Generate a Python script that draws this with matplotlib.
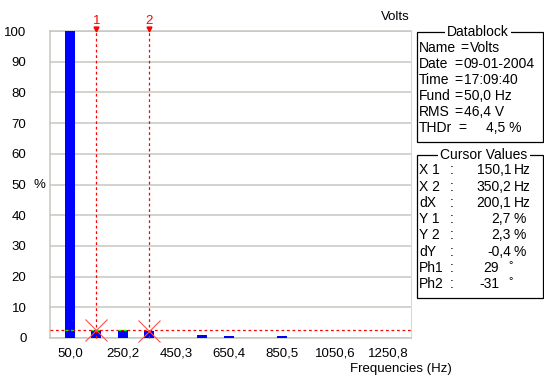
import matplotlib
matplotlib.use('Agg')
import matplotlib.pyplot as plt
from matplotlib.patches import Rectangle

# harmonic spectrum (Hz, % of fundamental)
freqs = [50, 150, 250, 350, 450, 550, 650, 750, 850]
amps = [100, 2.7, 2.6, 2.3, 0.0, 1.0, 0.6, 0.0, 0.5]

tick_pos = [50, 250, 450, 650, 850, 1050, 1250]
tick_labels = ['50,0', '250,2', '450,3', '650,4', '850,5', '1050,6', '1250,8']
y_ticks = [0, 10, 20, 30, 40, 50, 60, 70, 80, 90, 100]

cursor_x = [150, 350]
cursor_y = [2.7, 2.3]
cursor_names = ['1', '2']
hline_level = 2.5

datablock = [('Name', 'Volts'), ('Date', '09-01-2004'), ('Time', '17:09:40'),
             ('Fund', '50,0 Hz'), ('RMS', '46,4 V'), ('THDr', '4,5 %')]
cursor_rows = [('X 1', '150,1', 'Hz'), ('X 2', '350,2', 'Hz'), ('dX', '200,1', 'Hz'),
               ('Y 1', '2,7', '%'), ('Y 2', '2,3', '%'), ('dY', '-0,4', '%'),
               ('Ph1', '29', '°'), ('Ph2', '-31', '°')]

plt.rcParams['font.family'] = ['Liberation Sans', 'DejaVu Sans']
fs = 9.5
fs_box = 10
grid_col = '#c8c8c0'

fig = plt.figure(figsize=(5.44, 3.78), dpi=100)
ax = fig.add_axes([50 / 544, 1 - 338 / 378, 361 / 544, 307 / 378])

bar_w = 38
ax.bar(freqs, amps, width=bar_w, color='#0000ff', zorder=3)

ax.set_xlim(-25, 1337)
ax.set_ylim(0, 100)
ax.set_xticks(tick_pos)
ax.set_xticklabels(tick_labels)
ax.set_yticks(y_ticks)
ax.set_yticklabels([str(v) for v in y_ticks])
ax.tick_params(length=0, labelsize=fs, colors='#000000')
ax.tick_params(axis='y', pad=17)
ax.tick_params(axis='x', pad=7)
ax.yaxis.grid(True, color=grid_col, lw=1.1, zorder=0)
for s in ['left', 'bottom', 'top']:
    ax.spines[s].set_color(grid_col)
    ax.spines[s].set_linewidth(1.1)
ax.spines['right'].set_color('#d8d8e8')
ax.spines['right'].set_linestyle((0, (1, 1)))

dash = (0, (2.2, 2.2))
# horizontal cursor line, shown green where it crosses bars
ax.axhline(hline_level, color='#ff0000', lw=0.9, ls=dash, zorder=4)
for f, a in zip(freqs, amps):
    if a >= hline_level:
        ax.plot([f - bar_w / 2, f + bar_w / 2], [hline_level, hline_level],
                color='#00ff00', lw=0.9, ls=dash, zorder=5)

# vertical cursors
for cx, cy, name in zip(cursor_x, cursor_y, cursor_names):
    ax.plot([cx, cx], [0, 101.8], color='#ff0000', lw=0.9, ls=dash,
            zorder=4, clip_on=False)
    ax.plot([cx], [100.7], marker='v', color='#ff0000', ms=3.5, clip_on=False, zorder=6)
    ax.text(cx, 103.3, name, color='#ff0000', fontsize=fs, ha='center', va='center')
    ax.plot([cx], [cy], marker='x', color='#ff5050', ms=16, mew=0.8, zorder=6, clip_on=False)

# overlay in pixel coordinates for the side panels and loose labels
ov = fig.add_axes([0, 0, 1, 1])
ov.set_xlim(0, 544)
ov.set_ylim(378, 0)
ov.axis('off')
ov.patch.set_alpha(0)

ov.text(39, 185, '%', fontsize=fs, ha='center', va='center')
ov.text(395, 17, 'Volts', fontsize=fs, ha='center', va='center')
ov.text(401, 369, 'Frequencies (Hz)', fontsize=fs, ha='center', va='center')


def group_box(top, bottom, title, tx):
    ov.add_patch(Rectangle((416.5, top), 126.5, bottom - top, fill=False,
                           ec='#000000', lw=0.9))
    ov.text(tx, top, title, fontsize=fs_box, ha='center', va='center',
            bbox=dict(fc='white', ec='none', pad=1.5))


group_box(32, 142, 'Datablock', 478)
for i, (lab, val) in enumerate(datablock):
    y = 48 + 16 * i
    ov.text(419, y, lab, fontsize=fs_box, va='center')
    if lab == 'Name':
        ov.text(460, y, '=', fontsize=fs_box, va='center')
        ov.text(470, y, val, fontsize=fs_box, va='center')
    elif lab == 'THDr':
        ov.text(458, y, '=', fontsize=fs_box, va='center')
        ov.text(522, y, val, fontsize=fs_box, va='center', ha='right')
    else:
        ov.text(454, y, '=', fontsize=fs_box, va='center')
        ov.text(464, y, val, fontsize=fs_box, va='center')

group_box(155, 298, 'Cursor Values', 484)
for i, (lab, val, unit) in enumerate(cursor_rows):
    y = 170.5 + 16.2 * i
    ov.text(419, y, lab, fontsize=fs_box, va='center')
    ov.text(450, y, ':', fontsize=fs_box, va='center')
    if unit == '°':
        ov.text(499, y, val, fontsize=fs_box, va='center', ha='right')
        ov.text(511, y - 3, unit, fontsize=fs_box - 2, va='center', ha='center')
    else:
        ov.text(511, y, val, fontsize=fs_box, va='center', ha='right')
        ov.text(514, y, unit, fontsize=fs_box, va='center')

fig.savefig('out.png', dpi=100)
